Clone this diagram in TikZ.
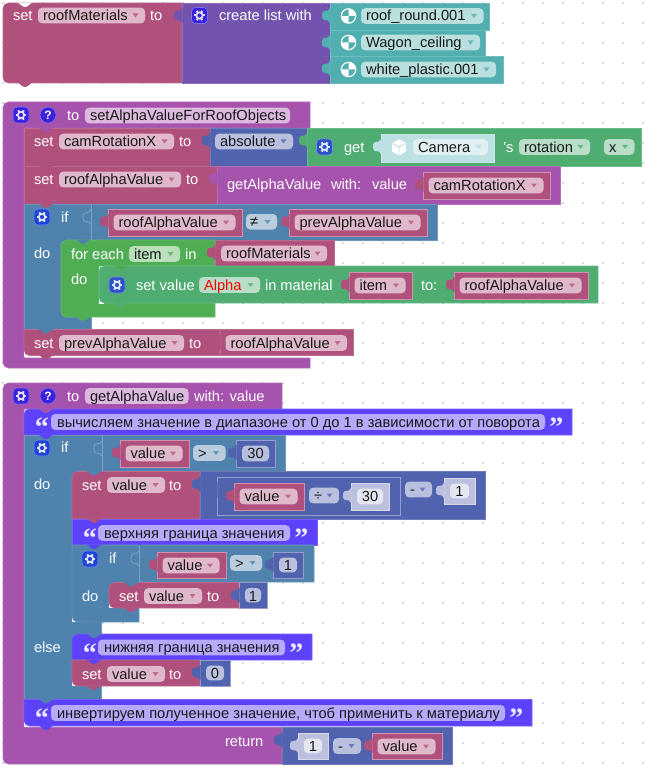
\documentclass[tikz,border=0pt]{standalone}
\usepackage{fontspec}
\setmainfont{Liberation Sans}
\newfontfamily\bkqf{Liberation Serif}
\definecolor{cpink}{HTML}{B0507C}
\definecolor{cproc}{HTML}{A553AC}
\definecolor{clist}{HTML}{7353AD}
\definecolor{cteal}{HTML}{52AFB0}
\definecolor{cif}{HTML}{5082AE}
\definecolor{cmath}{HTML}{5162AE}
\definecolor{cfor}{HTML}{4FAE54}
\definecolor{cget}{HTML}{4FAD72}
\definecolor{ccom}{HTML}{5C42FB}
\definecolor{clight}{HTML}{BDE0E3}
\definecolor{cnum}{HTML}{BCC0DF}
\definecolor{gpur}{HTML}{3A22DC}
\definecolor{gblu}{HTML}{1F45D6}
\definecolor{ggrn}{HTML}{2A52C6}
\definecolor{cdot}{HTML}{DADADA}
\tikzset{x=0.75pt,y=-0.75pt,
  bktx/.style={inner sep=0pt,outer sep=0pt,font=\fontsize{11pt}{13pt}\selectfont},
  bkwh/.style={bktx,text=white,anchor=base west},
  bkbl/.style={bktx,text=black!90,anchor=base west},
  bkctr/.style={bktx,text=black!90,anchor=base}}
% plain block
\newcommand{\bkr}[5]{\path[fill=#1,draw=#1!84!white,line width=.4pt] (#2,#3) rectangle (#4,#5);}
% rounded-left statement block: col x1 y1 x2 y2 rtop rbot
\newcommand{\bks}[7]{\fill[white] (#2,#5-5) rectangle (#2+5,#5);
  \path[fill=#1,draw=#1!84!white,line width=.4pt] (#4,#3) [rounded corners=#6pt] -- (#2,#3) [rounded corners=#7pt] -- (#2,#5) [sharp corners] -- (#4,#5) -- cycle;}
% tab
\newcommand{\bkt}[3]{\fill[#3] (#1+.5,#2) -- (#1,#2) .. controls (#1-2,#2+6) and (#1-8,#2-1) .. (#1-8,#2+7.5) .. controls (#1-8,#2+16) and (#1-2,#2+9) .. (#1,#2+15) -- (#1+.5,#2+15) -- cycle;}
\newcommand{\bko}[2]{\draw[cif!70!white,line width=.5pt] (#1,#2) .. controls (#1-2,#2+6) and (#1-8,#2-1) .. (#1-8,#2+7.5) .. controls (#1-8,#2+16) and (#1-2,#2+9) .. (#1,#2+15);}
% value block with tab
\newcommand{\bkv}[5]{\bkr{#1}{#2}{#3}{#4}{#5}\bkt{#2}{#3+5}{#1}}
% nested value block with a stronger edge
\newcommand{\bkw}[5]{\path[fill=#1,draw=#1!62!white,line width=.5pt] (#2,#3) rectangle (#4,#5);\bkt{#2}{#3+5}{#1}}
% statement bump: xleft y colour
\newcommand{\bkb}[3]{\fill[#3] (#1+14,#2-.3) .. controls (#1+17.5,#2) and (#1+18.5,#2+4) .. (#1+22,#2+4) .. controls (#1+25.5,#2+4) and (#1+26.5,#2) .. (#1+30,#2-.3) -- cycle;}
% white label: x yc text
\newcommand{\bkl}[3]{\node[bkwh] at (#1,#2+5) {#3};}
% dropdown pill: col x1 x2 yc text
\newcommand{\bkp}[5]{\fill[#1!40!white,rounded corners=3pt] (#2,#4-7.8) rectangle (#3,#4+7.8);
  \fill[#1!85!white] (#3-12.5,#4-2) -- (#3-6.5,#4-2) -- (#3-9.5,#4+2) -- cycle;
  \node[bkbl] at (#2+5,#4+5) {#5};}
% plain text pill
\newcommand{\bkn}[5]{\fill[#1,rounded corners=3pt] (#2,#4-7.8) rectangle (#3,#4+7.8);
  \node[bkbl] at (#2+5,#4+5) {#5};}
% number block: col x1 y1 x2 y2 text
\newcommand{\bknum}[6]{\bkw{#1}{#2}{#3}{#4}{#5}
  \fill[#1!40!white,rounded corners=3pt] (#2+6,#3+5.7) rectangle (#4-6,#5-5.7);
  \node[bkctr] at ({(#2+#4)/2},#3+18.5) {#6};}
% pink variable block
\newcommand{\bkq}[5]{\bkw{cpink}{#1}{#2}{#3}{#4}\bkp{cpink}{#1+5.5}{#3-6.5}{#2+13.5}{#5}}
% gear, help
\newcommand{\bkg}[3]{\path[fill=#3,draw=#3!65!white,line width=.5pt,rounded corners=3pt] (#1-8,#2-8) rectangle (#1+8,#2+8);
  \foreach \a in {0,60,...,300} {\draw[white!85!#3,line width=1.5pt] (#1,#2) ++(\a:3.2) -- ++(\a:2.2);}
  \draw[white!85!#3,line width=1.3pt] (#1,#2) circle[radius=3.2];}
\newcommand{\bkh}[2]{\path[fill=gpur,draw=gpur!65!white,line width=.5pt] (#1,#2) circle[radius=8];
  \node[bktx,text=white,anchor=center,font=\fontsize{9pt}{10pt}\selectfont\bfseries] at (#1,#2) {?};}
% sphere
\newcommand{\bkm}[2]{\fill[white] (#1,#2) circle[radius=7.8];
  \fill[cteal] (#1,#2) -- (#1-6.5,#2) arc[start angle=180,end angle=90,x radius=6.5,y radius=-6.5] -- cycle;
  \fill[cteal] (#1,#2) -- (#1+6.5,#2) arc[start angle=0,end angle=-90,x radius=6.5,y radius=-6.5] -- cycle;}
% comment: x1 y1 x2 y2 pillx1 pillx2 yc text
\newcommand{\bkc}[8]{
  \fill[ccom!45!white,rounded corners=3pt] (#5,#7-7.8) rectangle (#6,#7+7.8);
  \node[bkbl] at (#5+6,#7+5) {#8};
  \node[inner sep=0pt,anchor=base west,text=white!88!ccom,font=\bkqf\bfseries\fontsize{21pt}{21pt}\selectfont] at (#1+10.5,#7+14.5) {“};
  \node[inner sep=0pt,anchor=base west,text=white!88!ccom,font=\bkqf\bfseries\fontsize{21pt}{21pt}\selectfont] at (#6+4,#7+14.5) {”};}
\begin{document}
\begin{tikzpicture}
\useasboundingbox (0,0) rectangle (645,770);
\fill[white] (0,0) rectangle (645,770);
\foreach \i in {3,23,...,643} \foreach \j in {3,23,...,763} {\fill[cdot] (\i-1,\j-1) rectangle (\i+1,\j+1);}

% ===== block 1
\bks{cpink}{3}{3}{182}{83}{4}{4}
\bkl{13}{15.5}{set}
\bkp{cpink}{38}{145}{15.5}{roofMaterials}
\bkl{150}{15.5}{to}
\bkv{clist}{182}{3}{330}{83}
\bkg{199.5}{15.5}{gpur}
\bkl{219}{15.5}{create list with}
\bkv{cteal}{330}{3}{489.5}{30}
\bkm{348.5}{16}
\bkp{cteal}{361}{483.5}{16}{roof\_round.001}
\bkv{cteal}{330}{30}{485.5}{56}
\bkm{348.5}{42.5}
\bkp{cteal}{361}{480}{42.5}{Wagon\_ceiling}
\bkv{cteal}{330}{56}{503}{83}
\bkm{348.5}{69.5}
\bkp{cteal}{361}{496}{69.5}{white\_plastic.001}
\bkb{3}{3}{white}
\bkb{3}{83}{cpink}

% ===== block 2
\path[fill=cproc,draw=cproc!84!white,line width=.4pt] (310,102) [rounded corners=4pt] -- (3,102) -- (3,368) [sharp corners] -- (310,368) -- (310,358) -- (24,358) -- (24,128) -- (310,128) -- cycle;
\bkg{21}{115}{gpur}
\bkh{48}{115}
\bkl{67}{115.5}{to}
\bkn{cproc!40!white}{85}{290}{115.5}{setAlphaValueForRoofObjects}
% set camRotationX
\bkr{cpink}{24}{128}{210}{166}
\bkl{34}{141.5}{set}
\bkp{cpink}{59}{174}{141.5}{camRotationX}
\bkl{179}{141.5}{to}
\bkv{cmath}{210}{128}{307}{166}
\bkp{cmath}{215}{293}{141.5}{absolute}
\bkv{cget}{307}{128}{641}{166}
\bkg{324.5}{147}{ggrn}
\bkl{344}{147}{get}
\bkr{clight}{381}{134}{494}{162}\bkt{381}{139}{clight}
\fill[white] (399,139.5) -- (406,143) -- (406,151.5) -- (399,155.5) -- (392,151.5) -- (392,143) -- cycle;
\draw[clight,line width=.7pt] (392.5,143.5) -- (399,147) -- (405.5,143.5) (399,147) -- (399,155);
\fill[clight!45!white,rounded corners=3pt] (413,139.2) rectangle (488,154.8);
\fill[clight] (475.5,145) -- (481.5,145) -- (478.5,149) -- cycle;
\node[bkbl] at (418,152) {Camera};
\bkl{503}{147}{'s}
\bkp{cget}{519}{590}{147}{rotation}
\bkp{cget}{604}{634.5}{147}{x}
% set roofAlphaValue
\bkr{cpink}{24}{166}{217}{204}
\bkl{34}{179.5}{set}
\bkp{cpink}{59}{181}{179.5}{roofAlphaValue}
\bkl{186}{179.5}{to}
\bkv{cproc}{217}{166}{560}{204}
\bkl{227}{185}{getAlphaValue}
\bkl{331}{185}{with:}
\bkl{372}{185}{value}
\bkq{423}{172}{550}{199}{camRotationX}
% if
\path[fill=cif,draw=cif!84!white,line width=.4pt] (437,204) -- (24,204) -- (24,329.5) -- (91,329.5) -- (91,240) -- (437,240) -- cycle;
\draw[cif!75!white,line width=.5pt] (91,205) -- (91,240);
\bkg{42}{217}{gblu}
\bkl{61}{217}{if}
\bko{91}{209.5}
\bkq{108}{209}{242}{236}{roofAlphaValue}
\fill[cif!40!white,rounded corners=3pt] (246,214) rectangle (277,229.5);
\node[bkbl] at (250,226.5) {≠};
\fill[cif!85!white] (264.5,220) -- (270.5,220) -- (267.5,224) -- cycle;
\bkq{289}{209}{427}{236}{prevAlphaValue}
\bkl{34}{253}{do}
% for each
\path[fill=cfor,draw=cfor!84!white,line width=.4pt] (215,240) [rounded corners=4pt] -- (61,240) -- (61,317) [sharp corners] -- (215,317) -- (215,303) -- (99,303) -- (99,266) -- (215,266) -- cycle;
\bkl{71}{254}{for each}
\bkp{cfor}{129}{180}{254}{item}
\bkl{185}{254}{in}
\bkv{cpink}{215}{240}{334}{266}\bkp{cpink}{221}{327}{253.5}{roofMaterials}
\bkl{71}{279}{do}
\fill[white] (99,298) rectangle (104,304);
\bks{cget}{99}{266}{598}{303}{4}{4}
\bkg{117}{285}{ggrn}
\bkl{136}{285}{set value}
\bkp{cget}{199}{260}{285}{\textcolor{red}{Alpha}}
\bkl{265}{285}{in material}
\bkq{349}{272}{412}{299}{item}
\bkl{421}{285}{to:}
\bkq{454}{272}{588}{299}{roofAlphaValue}
% set prev
\bks{cpink}{24}{329.5}{220}{355.5}{0.01}{4}
\bkl{34}{343}{set}
\bkp{cpink}{59}{184}{343}{prevAlphaValue}
\bkl{189}{343}{to}
\bkv{cpink}{220}{329.5}{353}{355.5}\bkp{cpink}{225.5}{347}{343}{roofAlphaValue}
% bumps
\bkb{24}{128}{cproc}
\bkb{24}{166}{cpink}
\bkb{24}{204}{cpink}
\bkb{61}{240}{cif}
\bkb{99}{266}{cfor}
\bkb{99}{303}{cget}
\bkb{61}{317}{cfor}
\bkb{24}{329.5}{cif}
\bkb{24}{355.5}{cpink}

% ===== block 3
\path[fill=cproc,draw=cproc!84!white,line width=.4pt] (282,383) [rounded corners=4pt] -- (3,383) -- (3,764) [sharp corners] -- (282,764) -- (282,727.5) -- (24,727.5) -- (24,409) -- (282,409) -- cycle;
\bkg{21}{396}{gpur}
\bkh{48}{396}
\bkl{67}{396}{to}
\bkn{cproc!40!white}{85}{188.5}{396}{getAlphaValue}
\bkl{194}{396}{with: value}
% comment 1
\bks{ccom}{24}{409}{572}{435}{4}{0.01}
\bkc{24}{409}{572}{435}{51}{545}{422}{вычисляем значение в диапазоне от 0 до 1 в зависимости от поворота}
% if
\path[fill=cif,draw=cif!84!white,line width=.4pt] (285,435) -- (24,435) -- (24,700) -- (101,700) -- (101,471) -- (285,471) -- cycle;
\draw[cif!75!white,line width=.5pt] (102,436) -- (102,471);
\bkg{42}{448}{gblu}
\bkl{61}{447}{if}
\bko{102}{441}
\bkq{120}{440}{189}{467}{value}
\bkp{cif}{193}{225.5}{453}{>}
\bknum{cmath}{236}{440}{275}{467}{30}
\bkl{34}{484}{do}
% set value
\bks{cpink}{72}{471.5}{200}{519}{4}{0.01}
\bkl{82}{485}{set}
\bkp{cpink}{107}{165}{485}{value}
\bkl{169}{485}{to}
\bkv{cmath}{200}{471.5}{485}{519}
\bkw{cmath}{217}{477}{400.5}{515}
\bkq{234}{483}{304}{510}{value}
\bkp{cmath}{309}{339}{495.5}{÷}
\bknum{cnum}{351}{483}{389}{510}{30}
\bkp{cmath}{405}{432}{489.5}{-}
\bknum{cnum}{444}{478}{475}{504}{1}
% comment 2
\bkr{ccom}{72}{519}{317}{545}
\bkc{72}{519}{317}{545}{98}{290}{533}{верхняя граница значения}
% inner if
\fill[white] (72,617) rectangle (77,622);
\path[fill=cif,draw=cif!84!white,line width=.4pt] (314,545) -- (72,545) [rounded corners=4pt] -- (72,622) [sharp corners] -- (139,622) -- (139,582) -- (314,582) -- cycle;
\draw[cif!75!white,line width=.5pt] (139,546) -- (139,582);
\bkg{90}{559}{gblu}
\bkl{109}{558}{if}
\bko{139}{551}
\bkq{157}{552}{226}{578}{value}
\bkp{cif}{230}{262}{563}{>}
\bknum{cmath}{273}{552}{303}{578}{1}
\bkl{82}{596}{do}
\bks{cpink}{109}{582.5}{239}{608}{4}{4}
\bkl{119}{596}{set}
\bkp{cpink}{144}{202}{596}{value}
\bkl{207}{596}{to}
\bknum{cmath}{239}{582.5}{267}{608}{1}
% else
\bkl{34}{647}{else}
\bks{ccom}{72}{634}{312}{660}{4}{0.01}
\bkc{72}{634}{312}{660}{98}{285}{647.5}{нижняя граница значения}
\bks{cpink}{72}{660}{200}{686}{0.01}{4}
\bkl{82}{674}{set}
\bkp{cpink}{107}{165}{674}{value}
\bkl{169}{674}{to}
\bknum{cmath}{200}{660}{230}{686}{0}
% comment 3
\bks{ccom}{24}{699.5}{532}{726}{0.01}{4}
\bkc{24}{699.5}{532}{726}{51}{505}{713}{инвертируем полученное значение, чтоб применить к материалу}
% return
\bkl{225}{741}{return}
\bkv{cmath}{282}{727.5}{452}{764}
\bknum{cnum}{298}{733}{328}{759}{1}
\bkp{cmath}{333}{361}{746}{-}
\bkq{372}{733}{442}{759}{value}
% bumps
\bkb{24}{409}{cproc}
\bkb{24}{435}{ccom}
\bkb{72}{471.5}{cif}
\bkb{72}{519}{cpink}
\bkb{72}{545}{ccom}
\bkb{109}{582.5}{cif}
\bkb{109}{608}{cpink}
\bkb{72}{622}{cif}
\bkb{72}{634}{cif}
\bkb{72}{660}{ccom}
\bkb{72}{686}{cpink}
\bkb{24}{699.5}{cif}
\bkb{24}{726}{ccom}
\end{tikzpicture}
\end{document}
